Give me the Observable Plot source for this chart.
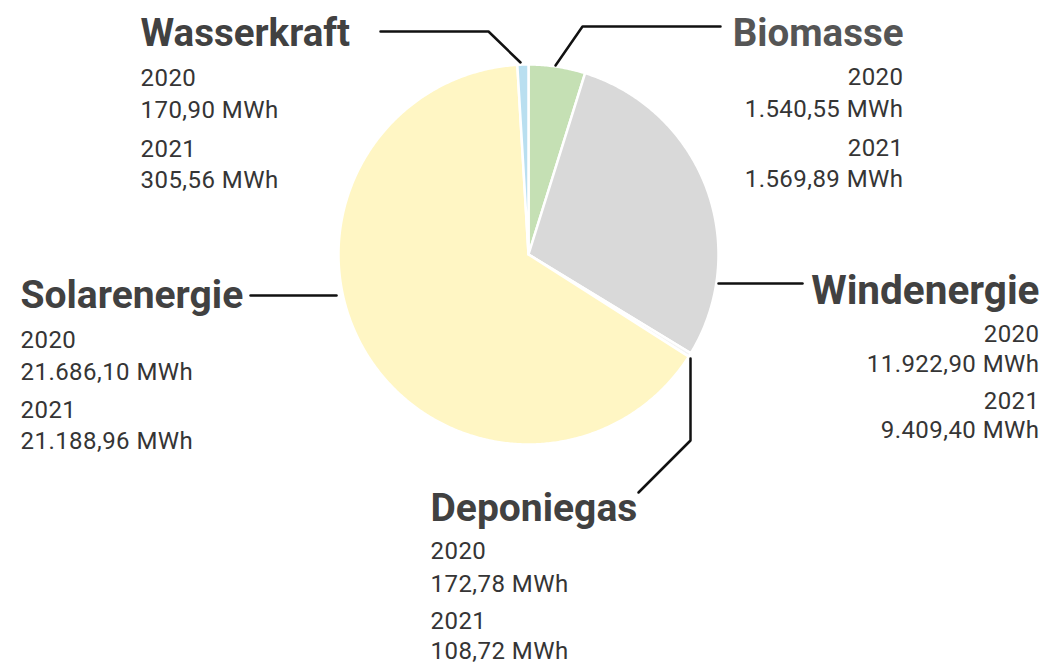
<!DOCTYPE html>
<html><head><meta charset="utf-8">
<script src="https://cdn.jsdelivr.net/npm/d3@7"></script>
<script src="https://cdn.jsdelivr.net/npm/@observablehq/plot@0.6"></script>
<style>
body{margin:0;background:#fff;overflow:hidden}
g[font-size="24"] text{letter-spacing:0.45px}
</style>
</head><body><div id="chart"></div>
<script>
// ---- data ----
const sources = ["Biomasse", "Windenergie", "Deponiegas", "Solarenergie", "Wasserkraft"];
const values2020 = [1540.55, 11922.90, 172.78, 21686.10, 170.90];
const values2021 = [1569.89, 9409.40, 108.72, 21188.96, 305.56];
const years = ["2020", "2021"];
const unit = "MWh";

// ---- styles / layout ----
const sliceColors = ["#c5e0b4", "#d9d9d9", "#f4f4f4", "#fff6c4", "#b9dff0"];
const titleColors = ["#555555", "#414141", "#414141", "#414141", "#414141"];
const W = 1049, H = 665;
const center = [528, 254], radius = 190;
const labelLayout = {
  Wasserkraft:  {x: 140,  y: 45,  anchor: "start", size: 38.5, offsets: [0, 40, 72, 111, 142], leader: [[380, 31], [488, 31], [520, 62]]},
  Biomasse:     {x: 903,  y: 45,  anchor: "end",   size: 38.5, offsets: [0, 39, 71, 110, 141], leader: [[720, 26], [582, 26], [555, 65]]},
  Solarenergie: {x: 20,   y: 307, anchor: "start", size: 39,   offsets: [0, 40, 72, 110, 141], leader: [[250, 295], [336, 295]]},
  Windenergie:  {x: 1039, y: 303, anchor: "end",   size: 40.5, offsets: [0, 38, 68, 105, 134], leader: [[718, 283], [802, 283]]},
  Deponiegas:   {x: 430,  y: 520, anchor: "start", size: 39,   offsets: [0, 38, 71, 108, 138], leader: [[690, 358], [690, 440], [638, 492]]}
};

const de = d3.formatLocale({decimal: ",", thousands: ".", grouping: [3], currency: ["", "€"]});
const fmt = de.format(",.2f");

// pie geometry from the 2021 values
const arcs = d3.pie().sort(null).startAngle(0).endAngle(2 * Math.PI)(values2021);
const slicePts = [];
arcs.forEach((a, i) => {
  const name = sources[i];
  slicePts.push({name, x: center[0], y: center[1]});
  const n = Math.max(2, Math.ceil((a.endAngle - a.startAngle) / (Math.PI / 360)));
  for (let k = 0; k <= n; k++) {
    const t = a.startAngle + (a.endAngle - a.startAngle) * k / n;
    slicePts.push({name, x: center[0] + radius * Math.sin(t), y: center[1] - radius * Math.cos(t)});
  }
  slicePts.push({name, x: center[0], y: center[1]});
});

const leaderPts = [];
sources.forEach(name => labelLayout[name].leader.forEach(([x, y]) => leaderPts.push({name, x, y})));

const titles = sources.map((name, i) => {
  const L = labelLayout[name];
  return {name, x: L.x, y: L.y, anchor: L.anchor, size: L.size, color: titleColors[i]};
});
const subs = [];
sources.forEach((name, i) => {
  const L = labelLayout[name];
  const lines = [years[0], `${fmt(values2020[i])} ${unit}`, years[1], `${fmt(values2021[i])} ${unit}`];
  lines.forEach((text, j) => subs.push({name, text, x: L.x, y: L.y + L.offsets[j + 1], anchor: L.anchor}));
});

const font = "Roboto, 'Open Sans', sans-serif";
const titleMarks = titles.map(d => Plot.text([d], {x: "x", y: "y", text: "name", fill: d.color, textAnchor: d.anchor, lineAnchor: "bottom", fontSize: d.size, fontWeight: "bold"}));
const chart = Plot.plot({
  width: W, height: H, margin: 0,
  x: {domain: [0, W], range: [0, W], axis: null},
  y: {domain: [0, H], range: [0, H], axis: null},
  color: {domain: sources, range: sliceColors},
  style: {fontFamily: font, background: "#fff"},
  marks: [
    Plot.line(slicePts, {x: "x", y: "y", z: "name", fill: "name", stroke: "#fff", strokeWidth: 2.5, strokeLinejoin: "round"}),
    Plot.line(leaderPts, {x: "x", y: "y", z: "name", stroke: "#111", strokeWidth: 2.5, strokeLinejoin: "miter"}),
    ...titleMarks,
    Plot.text(subs.filter(d => d.anchor === "start"), {x: "x", y: "y", text: "text", fill: "#353535", textAnchor: "start", lineAnchor: "bottom", fontSize: 24}),
    Plot.text(subs.filter(d => d.anchor === "end"), {x: "x", y: "y", text: "text", fill: "#353535", textAnchor: "end", lineAnchor: "bottom", fontSize: 24})
  ]
});
document.getElementById("chart").appendChild(chart);
</script>
</body></html>
